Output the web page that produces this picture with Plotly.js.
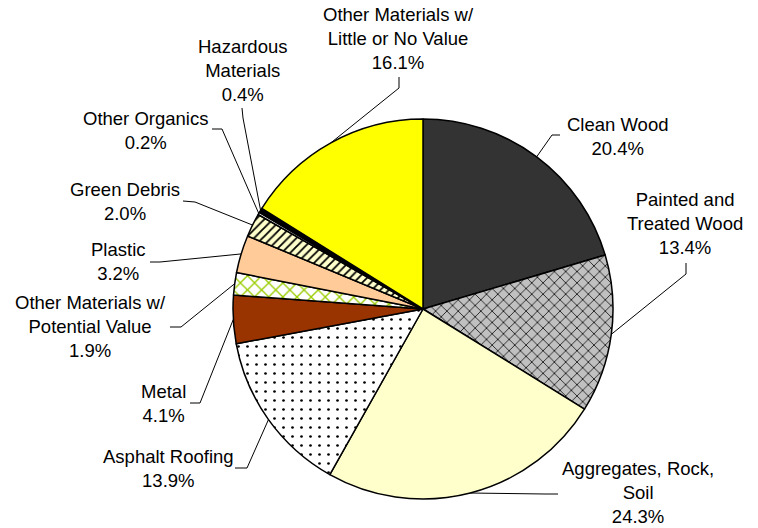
<!DOCTYPE html>
<html>
<head>
<meta charset="utf-8">
<script src="https://cdn.plot.ly/plotly-3.0.1.min.js"></script>
<style>html,body{margin:0;padding:0;background:#fff;}#chart{width:758px;height:528px;}</style>
</head>
<body>
<div id="chart"></div>
<script>
// ---- data ----
var categories = ["Clean Wood", "Painted and Treated Wood", "Aggregates, Rock, Soil", "Asphalt Roofing", "Metal",
  "Other Materials w/ Potential Value", "Plastic", "Green Debris", "Other Organics", "Hazardous Materials",
  "Other Materials w/ Little or No Value"];
var values = [20.4, 13.4, 24.3, 13.9, 4.1, 1.9, 3.2, 2.0, 0.2, 0.4, 16.1];
var labelTexts = ["Clean Wood<br>20.4%", "Painted and<br>Treated Wood<br>13.4%", "Aggregates, Rock,<br>Soil<br>24.3%",
  "Asphalt Roofing<br>13.9%", "Metal<br>4.1%", "Other Materials w/<br>Potential Value<br>1.9%", "Plastic<br>3.2%",
  "Green Debris<br>2.0%", "Other Organics<br>0.2%", "Hazardous<br>Materials<br>0.4%",
  "Other Materials w/<br>Little or No Value<br>16.1%"];

// ---- styles ----
var sliceColors = ["#333333", "#C0C0C0", "#FFFFCC", "#FFFFFF", "#993300", "#FFFFFF", "#FFCC99", "#FFFFCC", "#FFFFFF", "#000000", "#FFFF00"];
var patShapes = ["", "x", "", ".", "", "x", "", "/", "", "", ""];
var patFg = ["#000", "#000", "#000", "#000", "#000", "#99CC00", "#000", "#000", "#000", "#000", "#000"];
var patSize = [8, 8, 8, 9, 8, 10, 8, 6, 8, 8, 8];
var patSolid = [0.3, 0.18, 0.3, 0.07, 0.3, 0.25, 0.3, 0.3, 0.3, 0.3, 0.3];

// ---- layout geometry (pixels) ----
var W = 758, H = 528, CX = 423, CY = 309, R = 190;
var labelPos = [[617,136.5],[685,223],[638,492],[168,468.5],[163,403.5],[90,326.5],[118,261.5],[125,201.5],[145,130],[242,70],[398,38]];
var leaderPts = [
  [[560,135],[552,135]],
  [[686,263],[686,274]],
  [[558,494],[545,494]],
  [[235,468],[247,468]],
  [[190,403],[200,403]],
  [[170,327],[181,327]],
  [[150,262],[160,262]],
  [[183,201],[195,202]],
  [[212,129],[222,129]],
  [[242,108],[243,118]],
  [[399,77],[399,88]]
];

function px(x){ return x / W; }
function py(y){ return 1 - y / H; }

var total = values.reduce(function(a,b){return a+b;},0);
var cum = 0;
var annotations = [], shapes = [];
for (var i = 0; i < values.length; i++) {
  var mid = (cum + values[i] / 2) / total * 2 * Math.PI;
  cum += values[i];
  var tx = CX + R * Math.sin(mid), ty = CY - R * Math.cos(mid);
  var pts = leaderPts[i];
  var path = "M " + px(pts[0][0]) + " " + py(pts[0][1]) + " L " + px(pts[1][0]) + " " + py(pts[1][1]) + " L " + px(tx) + " " + py(ty);
  shapes.push({type: "path", xref: "paper", yref: "paper", path: path, line: {color: "#000", width: 1}, layer: "above"});
  annotations.push({
    xref: "paper", yref: "paper", x: px(labelPos[i][0]), y: py(labelPos[i][1]),
    xanchor: "center", yanchor: "middle", showarrow: false, align: "center",
    text: labelTexts[i], font: {family: "Liberation Sans, Arial, sans-serif", size: 18.5, color: "#000"}
  });
}

var trace = {
  type: "pie",
  labels: categories,
  values: values,
  sort: false,
  direction: "clockwise",
  rotation: 0,
  textinfo: "none",
  hoverinfo: "label+percent",
  marker: {
    colors: sliceColors,
    line: {color: "#000", width: 1.5},
    pattern: {shape: patShapes, fgcolor: patFg, bgcolor: sliceColors, size: patSize, solidity: patSolid, fillmode: "replace"}
  },
  domain: {x: [px(CX - R), px(CX + R)], y: [py(CY + R), py(CY - R)]},
  showlegend: false
};

var layout = {
  width: W, height: H,
  margin: {l: 0, r: 0, t: 0, b: 0},
  paper_bgcolor: "#fff",
  showlegend: false,
  annotations: annotations,
  shapes: shapes
};

Plotly.newPlot("chart", [trace], layout, {displayModeBar: false, staticPlot: true});
</script>
</body>
</html>
